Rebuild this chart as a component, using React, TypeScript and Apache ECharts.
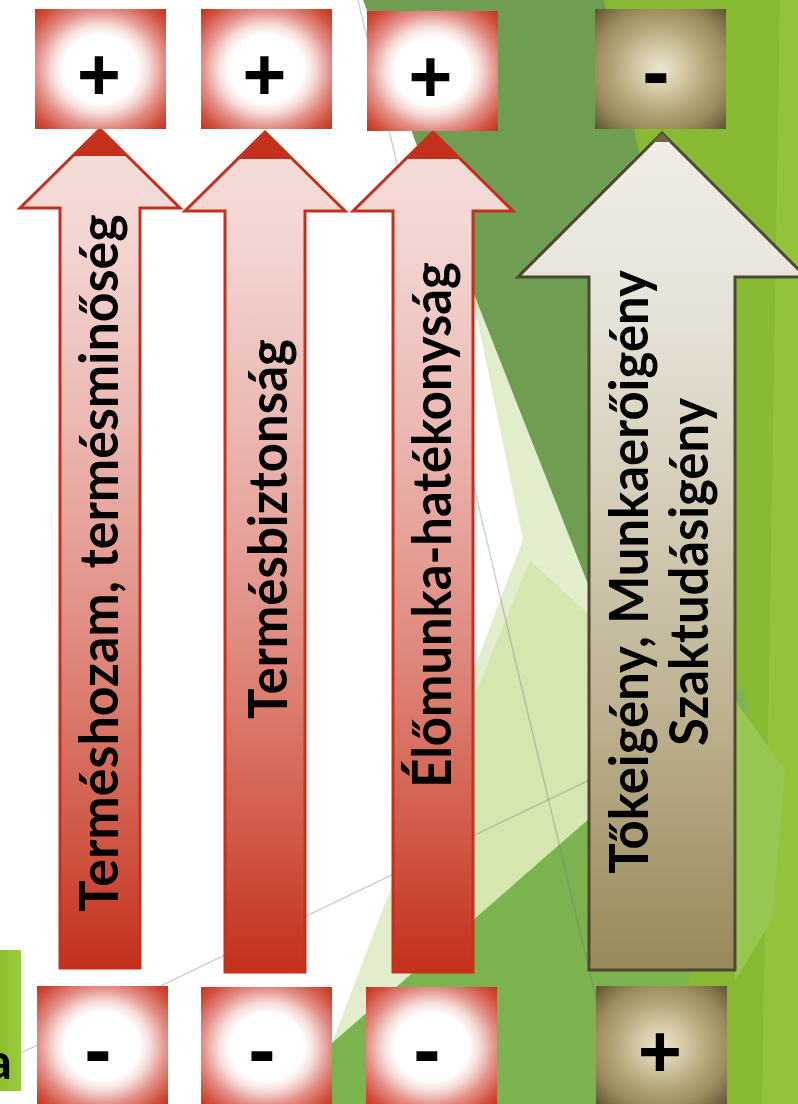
import React, { useEffect, useRef } from "react";
import * as echarts from "echarts";

// ---- content ----
const arrowLabels: string[][] = [
  ["Terméshozam, termésminőség"],
  ["Termésbiztonság"],
  ["Élőmunka-hatékonyság"],
  ["Tőkeigény, Munkaerőigény", "Szaktudásigény"],
];
const topSigns = ["+", "+", "+", "-"];
const bottomSigns = ["-", "-", "-", "+"];
const arrowThemes = ["red", "red", "red", "beige"];
const sideLabel = "a";

// ---- layout ----
const W = 798;
const H = 1104;
const arrowGeom = [
  { cx: 100, tipY: 129, headY: 208, headHalf: 80, shaftHalf: 40, bottom: 968 },
  { cx: 265, tipY: 132, headY: 211, headHalf: 80, shaftHalf: 40, bottom: 972 },
  { cx: 433, tipY: 132, headY: 211, headHalf: 80, shaftHalf: 40, bottom: 972 },
  { cx: 662, tipY: 133, headY: 277, headHalf: 144, shaftHalf: 73, bottom: 970 },
];
const topBoxes = [
  { x: 35, y: 9 },
  { x: 201, y: 9 },
  { x: 367, y: 11 },
  { x: 595, y: 9 },
];
const bottomBoxes = [
  { x: 37, y: 986 },
  { x: 201, y: 987 },
  { x: 366, y: 987 },
  { x: 596, y: 986 },
];
const boxW = 131;
const boxH = 120;
const topSignPos = [
  [99, 74],
  [264.5, 74],
  [430.5, 76],
  [656, 75],
];
const bottomSignPos = [
  [98, 1053],
  [262, 1053],
  [427, 1053],
  [660, 1051],
];
const labelLayout = [
  [{ cx: 97, cy: 563, len: 697 }],
  [{ cx: 267, cy: 529, len: 380 }],
  [{ cx: 431, cy: 525, len: 526 }],
  [
    { cx: 628, cy: 572, len: 604 },
    { cx: 688, cy: 572, len: 348 },
  ],
];
const LABEL_FONT = "Lato";
const LABEL_SIZE = 53;

const bgPolys: { pts: number[][]; color: string }[] = [
  { pts: [[590, 0], [798, 0], [798, 1104], [500, 1104]], color: "#88b933" },
  { pts: [[780, 0], [798, 0], [798, 1104], [762, 1104]], color: "#93c33b" },
  { pts: [[363, 0], [604, 0], [680, 330], [600, 640]], color: "#6f9d51" },
  { pts: [[470, 284], [523, 540], [332, 1043], [590, 818], [610, 640]], color: "#e2edcb" },
  { pts: [[530, 560], [605, 630], [590, 818], [473, 920], [473, 700]], color: "#d5e7ae" },
  { pts: [[262, 1104], [590, 818], [745, 686], [760, 820], [690, 977], [613, 1104]], color: "#7bb44f" },
  { pts: [[735, 700], [785, 770], [772, 920], [735, 980]], color: "#97c653" },
];
const bgLines = [
  { from: [358, 0], to: [621, 1104] },
  { from: [0, 1063], to: [600, 775] },
];

function arrowPoints(g: typeof arrowGeom[number]) {
  const { cx, tipY, headY, headHalf, shaftHalf, bottom } = g;
  return [
    [cx, tipY],
    [cx + headHalf, headY],
    [cx + shaftHalf, headY],
    [cx + shaftHalf, bottom],
    [cx - shaftHalf, bottom],
    [cx - shaftHalf, headY],
    [cx - headHalf, headY],
  ];
}

function measure(text: string, font: string) {
  const c = document.createElement("canvas").getContext("2d");
  if (!c) return text.length * 26;
  c.font = font;
  return c.measureText(text).width;
}

export default function App() {
  const ref = useRef<HTMLDivElement>(null);
  useEffect(() => {
    if (!ref.current) return;
    const chart = echarts.init(ref.current, null, { renderer: "svg", width: W, height: H });
    const G = echarts.graphic;
    const els: any[] = [];

    els.push({ type: "rect", shape: { x: 0, y: 0, width: W, height: H }, style: { fill: "#ffffff" } });
    bgPolys.forEach((p) =>
      els.push({ type: "polygon", shape: { points: p.pts }, style: { fill: p.color } })
    );
    bgLines.forEach((l) =>
      els.push({
        type: "line",
        shape: { x1: l.from[0], y1: l.from[1], x2: l.to[0], y2: l.to[1] },
        style: { stroke: "rgba(110,110,130,0.32)", lineWidth: 1.5 },
      })
    );

    // side element at the left edge
    els.push({
      type: "rect",
      shape: { x: -2, y: 950, width: 23, height: 141 },
      style: {
        fill: new G.LinearGradient(0, 0, 1, 0, [
          { offset: 0, color: "#8bbd2e" },
          { offset: 1, color: "#9acb3c" },
        ]),
      },
    });
    els.push({
      type: "text",
      x: 12,
      y: 1060,
      style: {
        text: sideLabel,
        fontSize: 50,
        fontWeight: "bold",
        fontFamily: LABEL_FONT,
        fill: "#000",
        align: "right",
        verticalAlign: "middle",
        textAlign: "right",
        textVerticalAlign: "middle",
      },
    });

    const redFill = () =>
      new G.LinearGradient(0, 0, 0, 1, [
        { offset: 0, color: "#f5dedb" },
        { offset: 0.12, color: "#f3d6d3" },
        { offset: 0.35, color: "#ebb8b2" },
        { offset: 0.6, color: "#e08c82" },
        { offset: 0.82, color: "#d25d4c" },
        { offset: 1, color: "#c4301c" },
      ]);
    const beigeFill = () =>
      new G.LinearGradient(0, 0, 0, 1, [
        { offset: 0, color: "#f0ede7" },
        { offset: 0.2, color: "#e8e3d9" },
        { offset: 0.45, color: "#d4ccb7" },
        { offset: 0.7, color: "#bcb08e" },
        { offset: 1, color: "#978959" },
      ]);
    const redBox = () =>
      new G.RadialGradient(0.5, 0.5, 0.71, [
        { offset: 0, color: "#ffffff" },
        { offset: 0.4, color: "#ffffff" },
        { offset: 0.52, color: "#f6dbd7" },
        { offset: 0.68, color: "#e3918a" },
        { offset: 0.85, color: "#d25644" },
        { offset: 1, color: "#c4301c" },
      ]);
    const beigeBox = () =>
      new G.RadialGradient(0.5, 0.5, 0.71, [
        { offset: 0, color: "#ebe6d1" },
        { offset: 0.25, color: "#d3c9a5" },
        { offset: 0.5, color: "#b4a67a" },
        { offset: 0.72, color: "#9b8c5d" },
        { offset: 0.87, color: "#7c6f47" },
        { offset: 1, color: "#5a5134" },
      ]);

    arrowGeom.forEach((g, i) => {
      const red = arrowThemes[i] === "red";
      els.push({
        type: "polygon",
        shape: { points: arrowPoints(g) },
        style: {
          fill: red ? redFill() : beigeFill(),
          stroke: red ? "#c4301c" : "#4e4631",
          lineWidth: 3,
          lineJoin: "miter",
        },
      });
      const t = red ? 27 : 9;
      els.push({
        type: "polygon",
        shape: {
          points: [
            [g.cx, g.tipY],
            [g.cx - t, g.tipY + t],
            [g.cx + t, g.tipY + t],
          ],
        },
        style: { fill: red ? "#c4301c" : "#6e6446" },
      });
    });

    [topBoxes, bottomBoxes].forEach((boxes) =>
      boxes.forEach((b, i) =>
        els.push({
          type: "rect",
          shape: { x: b.x, y: b.y, width: boxW, height: boxH },
          style: { fill: arrowThemes[i] === "red" ? redBox() : beigeBox() },
        })
      )
    );

    const signEl = (s: string, p: number[]) => {
      const plus = s === "+";
      return {
        type: "text",
        x: p[0],
        y: plus ? p[1] : p[1] - 5,
        style: {
          text: s,
          fontSize: plus ? 75 : 82,
          fontWeight: "bold",
          fontFamily: "Liberation Sans",
          fill: "#000",
          align: "center",
          verticalAlign: "middle",
          textAlign: "center",
          textVerticalAlign: "middle",
        },
      };
    };
    topSigns.forEach((s, i) => els.push(signEl(s, topSignPos[i])));
    bottomSigns.forEach((s, i) => els.push(signEl(s, bottomSignPos[i])));

    const font = `bold ${LABEL_SIZE}px ${LABEL_FONT}`;
    arrowLabels.forEach((lines, i) =>
      lines.forEach((txt, j) => {
        const lay = labelLayout[i][j];
        const w = measure(txt, font);
        els.push({
          type: "text",
          x: lay.cx,
          y: lay.cy,
          rotation: Math.PI / 2,
          scaleX: lay.len / w,
          scaleY: 1,
          style: {
            text: txt,
            fontSize: LABEL_SIZE,
            fontWeight: "bold",
            fontFamily: LABEL_FONT,
            fill: "#000",
            align: "center",
            verticalAlign: "middle",
            textAlign: "center",
            textVerticalAlign: "middle",
          },
        });
      })
    );

    chart.setOption({ animation: false, graphic: { elements: els } });
    return () => chart.dispose();
  }, []);
  return (
    <div
      ref={ref}
      style={{ position: "absolute", left: 0, top: 0, width: W, height: H, overflow: "hidden" }}
    />
  );
}
